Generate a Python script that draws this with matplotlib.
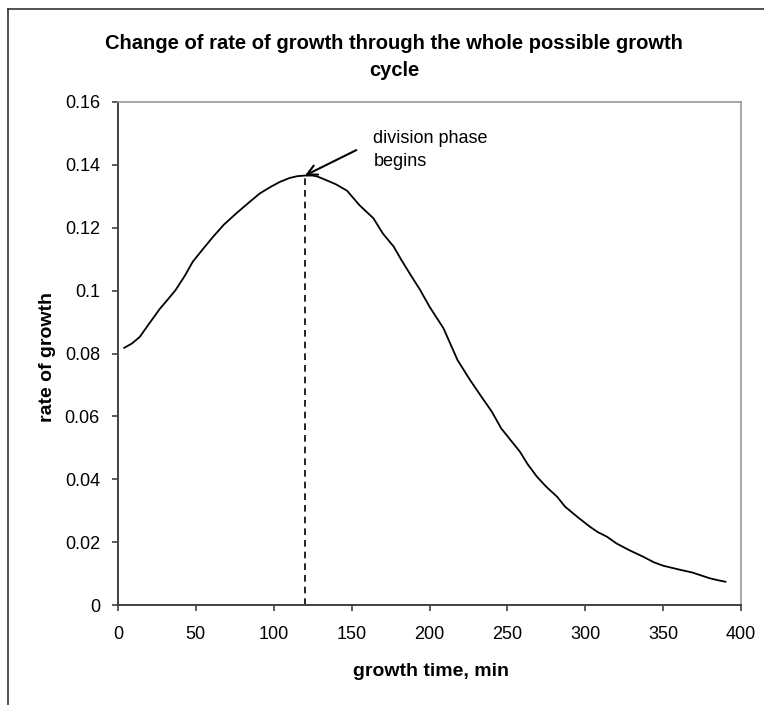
import matplotlib.pyplot as plt
from matplotlib.lines import Line2D

plt.rcParams['font.family'] = ['Liberation Sans', 'DejaVu Sans']

# Data
time_min = [4, 9, 14, 20, 27, 32, 37, 43, 48, 55, 61, 68, 76, 84, 91, 98,
            104, 110, 115, 120, 125, 128, 132, 140, 147, 155, 164, 170, 177,
            182, 188, 194, 200, 209, 218, 226, 233, 240, 246, 252, 258, 263,
            269, 275, 282, 287, 295, 303, 308, 314, 320, 328, 337, 344, 350,
            360, 369, 375, 380, 385, 390]
rate = [0.0818, 0.0832, 0.0853, 0.0895, 0.0943, 0.0972, 0.1002, 0.1048,
        0.1092, 0.1135, 0.1171, 0.1210, 0.1246, 0.1280, 0.1309, 0.1330,
        0.1346, 0.1358, 0.1364, 0.1366, 0.1366, 0.1363, 0.1355, 0.1338,
        0.1318, 0.1272, 0.1230, 0.1182, 0.1140, 0.1097, 0.1049, 0.1002,
        0.0949, 0.0880, 0.0779, 0.0716, 0.0665, 0.0615, 0.0562, 0.0525,
        0.0488, 0.0448, 0.0408, 0.0376, 0.0344, 0.0313, 0.0280, 0.0249,
        0.0232, 0.0217, 0.0196, 0.0175, 0.0154, 0.0136, 0.0125, 0.0113,
        0.0103, 0.0093, 0.0085, 0.0079, 0.0074]
peak_time = 120
peak_rate = 0.1366
x_ticks = [0, 50, 100, 150, 200, 250, 300, 350, 400]
y_ticks = [0, 0.02, 0.04, 0.06, 0.08, 0.1, 0.12, 0.14, 0.16]
y_tick_labels = ['0', '0.02', '0.04', '0.06', '0.08', '0.1', '0.12', '0.14', '0.16']

fig = plt.figure(figsize=(7.64, 7.05), dpi=100)
ax = fig.add_axes([118 / 764, 100 / 705, 623 / 764, 503 / 705])

ax.plot(time_min, rate, color='black', lw=1.3)
ax.plot([peak_time, peak_time], [0, peak_rate], color='black', lw=1.2,
        linestyle=(0, (4, 3)))

ax.annotate('', xy=(peak_time, peak_rate), xytext=(153, 0.1447),
            arrowprops=dict(arrowstyle='->', color='black', lw=1.5,
                            mutation_scale=18, shrinkA=0, shrinkB=0))
ax.text(164, 0.1447, 'division phase\nbegins', fontsize=13, ha='left',
        va='center', linespacing=1.45)

ax.set_xlim(0, 400)
ax.set_ylim(0, 0.16)
ax.set_xticks(x_ticks)
ax.set_yticks(y_ticks)
ax.set_yticklabels(y_tick_labels)
ax.tick_params(axis='both', direction='out', length=4, width=1.2,
               colors='#404040', labelcolor='black', labelsize=13)
ax.tick_params(axis='y', pad=9)
ax.tick_params(axis='x', pad=11)

for side in ['left', 'bottom']:
    ax.spines[side].set_color('#404040')
    ax.spines[side].set_linewidth(1.4)
for side in ['top', 'right']:
    ax.spines[side].set_color('#999999')
    ax.spines[side].set_linewidth(1.2)

fig.text(394 / 764, 1 - 57 / 705,
         'Change of rate of growth through the whole possible growth\ncycle',
         ha='center', va='center', fontsize=14.5, fontweight='bold',
         linespacing=1.5)
fig.text(431 / 764, 1 - 672 / 705, 'growth time, min', ha='center',
         va='center', fontsize=14, fontweight='bold')
fig.text(47 / 764, 1 - 357 / 705, 'rate of growth', ha='center',
         va='center', rotation=90, fontsize=14, fontweight='bold')

# outer chart border (only left and top visible)
fig.add_artist(Line2D([8 / 764, 8 / 764], [0, 1 - 9 / 705],
                      transform=fig.transFigure, color='#333333', lw=1.2))
fig.add_artist(Line2D([8 / 764, 1], [1 - 9 / 705, 1 - 9 / 705],
                      transform=fig.transFigure, color='#333333', lw=1.2))

plt.savefig('out.png', dpi=100)
